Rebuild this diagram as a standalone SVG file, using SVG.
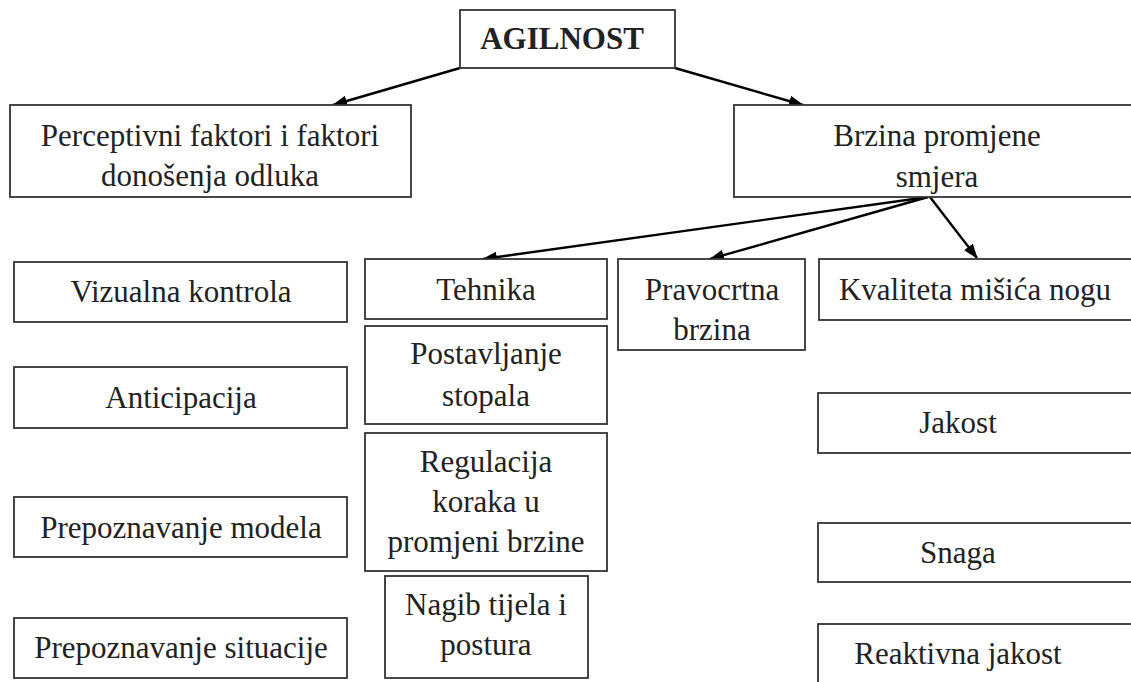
<svg xmlns="http://www.w3.org/2000/svg" width="1131" height="682" viewBox="0 0 1131 682">
<defs>
<marker id="ah" markerWidth="15" markerHeight="11" refX="14" refY="5.5" orient="auto" markerUnits="userSpaceOnUse">
<path d="M0,0 L15,5.5 L0,11 Z" fill="#000"/>
</marker>
<style>
.box{fill:#fff;stroke:#333;stroke-width:1.8}
.c{stroke:#000;stroke-width:2.4;fill:none;marker-end:url(#ah)}
</style>
</defs>
<rect width="1131" height="682" fill="#fff"/>
<g id="connectors">
<line class="c" x1="460" y1="68" x2="333" y2="105"/>
<line class="c" x1="675" y1="68" x2="803" y2="105"/>
<line class="c" x1="928" y1="197" x2="483" y2="259"/>
<line class="c" x1="928" y1="197" x2="710" y2="259"/>
<line class="c" x1="930" y1="197" x2="977" y2="258"/>
</g>
<g font-family="Liberation Serif, Times New Roman, serif" font-size="31" fill="#222" text-anchor="middle">
<g id="agilnost"><rect class="box" x="460" y="10" width="215" height="58"/><text font-weight="bold" x="562" y="49">AGILNOST</text></g>
<g id="perceptivni"><rect class="box" x="10" y="105" width="401" height="92"/><text x="210" y="146">Perceptivni faktori i faktori</text><text x="210" y="186">donošenja odluka</text></g>
<g id="brzina"><rect class="box" x="734" y="105" width="410" height="92"/><text x="937" y="146">Brzina promjene</text><text x="937" y="187">smjera</text></g>
<g id="vizualna"><rect class="box" x="14" y="262" width="333" height="60"/><text x="181" y="302">Vizualna kontrola</text></g>
<g id="anticipacija"><rect class="box" x="14" y="367" width="333" height="61"/><text x="181" y="408">Anticipacija</text></g>
<g id="modela"><rect class="box" x="14" y="497" width="333" height="60"/><text x="181" y="538">Prepoznavanje modela</text></g>
<g id="situacije"><rect class="box" x="14" y="618" width="333" height="60"/><text x="181" y="658">Prepoznavanje situacije</text></g>
<g id="tehnika"><rect class="box" x="365" y="259" width="242" height="60"/><text x="486" y="300">Tehnika</text></g>
<g id="postavljanje"><rect class="box" x="365" y="326" width="242" height="98"/><text x="486" y="364">Postavljanje</text><text x="486" y="406">stopala</text></g>
<g id="regulacija"><rect class="box" x="365" y="433" width="242" height="138"/><text x="486" y="472">Regulacija</text><text x="486" y="512">koraka u</text><text x="486" y="552">promjeni brzine</text></g>
<g id="nagib"><rect class="box" x="385" y="576" width="203" height="102"/><text x="486" y="615">Nagib tijela i</text><text x="486" y="655">postura</text></g>
<g id="pravocrtna"><rect class="box" x="618" y="259" width="187" height="91"/><text x="712" y="300">Pravocrtna</text><text x="712" y="340">brzina</text></g>
<g id="kvaliteta"><rect class="box" x="819" y="259" width="320" height="61"/><text x="975" y="300">Kvaliteta mišića nogu</text></g>
<g id="jakost"><rect class="box" x="818" y="393" width="320" height="60"/><text x="958" y="433">Jakost</text></g>
<g id="snaga"><rect class="box" x="818" y="523" width="320" height="59"/><text x="958" y="563">Snaga</text></g>
<g id="reaktivna"><rect class="box" x="818" y="624" width="320" height="70"/><text x="958" y="664">Reaktivna jakost</text></g>
</g>
</svg>
